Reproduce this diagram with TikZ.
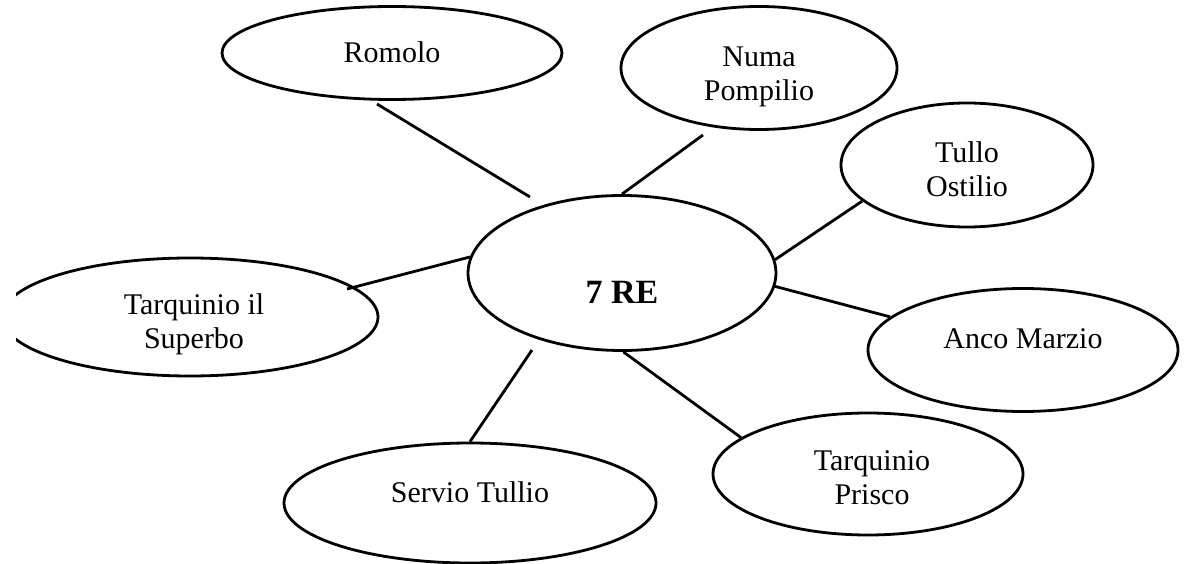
\documentclass[tikz,border=0pt]{standalone}
\usepackage{fontspec}
\setmainfont{Liberation Serif}
\usetikzlibrary{shapes.geometric}
% text shifted so that its (first) baseline lies #1 px below the node centre
\newcommand{\rtxt}[2]{\smash{\raisebox{-#1pt}{#2}}}
\newcommand{\rtwo}[3]{\smash{\raisebox{-#1pt}{\begin{tabular}[t]{@{}c@{}}#2\\#3\end{tabular}}}}
\begin{document}
\begin{tikzpicture}[x=1pt,y=-1pt,
  bub/.style={draw, ellipse, line width=2.8pt, inner sep=0pt,
    font=\fontsize{30pt}{34pt}\selectfont},
  link/.style={line width=2.8pt}]
\useasboundingbox (0,0) rectangle (1184,564);
\begin{scope}
\clip (16,0) rectangle (1184,564);
% central node
\node[bub, minimum width=308pt, minimum height=155pt,
  font=\fontsize{34pt}{38pt}\selectfont\bfseries] (re) at (622,273) {\rtxt{30}{7 RE}};
% the seven kings
\node[bub, minimum width=340pt, minimum height=93pt] (romolo) at (392,53) {\rtxt{10}{Romolo}};
\node[bub, minimum width=276pt, minimum height=123pt] (numa) at (759,68) {\rtwo{-1}{Numa}{Pompilio}};
\node[bub, minimum width=252pt, minimum height=124pt] (tullo) at (967,165) {\rtwo{-2}{Tullo}{Ostilio}};
\node[bub, minimum width=310pt, minimum height=123pt] (anco) at (1023,350) {\rtxt{-2}{Anco Marzio}};
\node[bub, minimum width=310pt, minimum height=122pt] (prisco) at (868,474) {\hspace*{8pt}\rtwo{-4}{Tarquinio}{Prisco}};
\node[bub, minimum width=372pt, minimum height=120pt] (servio) at (470,503) {\rtxt{-1}{Servio Tullio}};
\node[bub, minimum width=376pt, minimum height=118pt] (superbo) at (190,317) {\hspace*{8pt}\rtwo{-2}{Tarquinio il}{Superbo}};
% free ends of the connectors
\coordinate (romoloEnd) at (377,104);
\coordinate (reRomolo) at (530,197);
\coordinate (numaEnd) at (703,135);
\coordinate (reServio) at (532,350);
\coordinate (superboEnd) at (347,289);
% connectors
\draw[link] (romoloEnd) -- (reRomolo);
\draw[link] (numaEnd) -- (re.90);
\draw[link] (tullo.199) -- (re.5.5);
\draw[link] (re.-5.5) -- (anco.166);
\draw[link] (re.-89) -- (prisco.164);
\draw[link] (reServio) -- (servio.90);
\draw[link] (superboEnd) -- (re.174);
\end{scope}
\end{tikzpicture}
\end{document}
